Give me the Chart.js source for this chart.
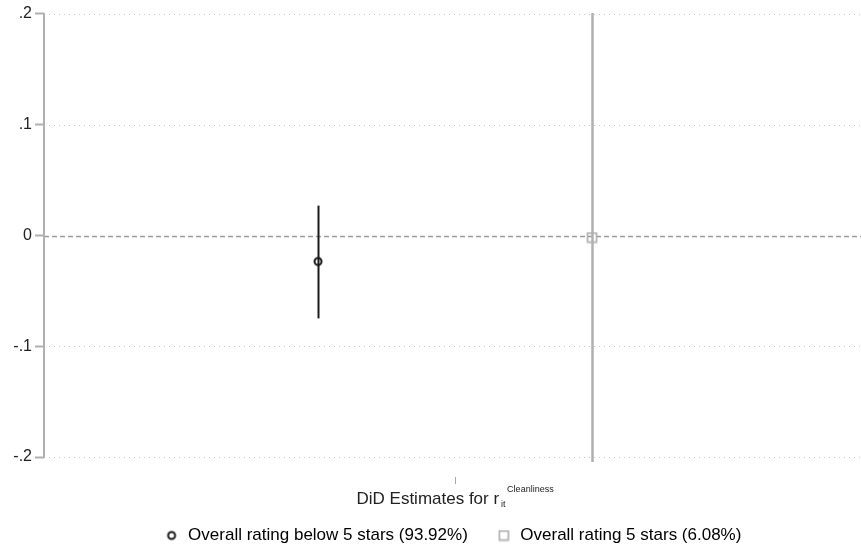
<!DOCTYPE html>
<html>
<head>
<meta charset="utf-8">
<script src="https://cdn.jsdelivr.net/npm/chart.js@4.4.1/dist/chart.umd.min.js"></script>
<style>
  html, body { margin: 0; padding: 0; background: #ffffff; }
  #wrap { width: 861px; height: 554px; position: relative; }
</style>
</head>
<body>
<div id="wrap"><canvas id="c" width="861" height="554"></canvas></div>
<script>
// ---- data ----
const seriesNames = ['Overall rating below 5 stars (93.92%)', 'Overall rating 5 stars (6.08%)'];
const xPositions = [-0.4, 0.4];
const estimates = [-0.0234, -0.0018];
const ciLow = [-0.0748, -0.2045];
const ciHigh = [0.027, 0.201];
const yTickValues = [-0.2, -0.1, 0, 0.1, 0.2];
const yTickLabels = ['-.2', '-.1', '0', '.1', '.2'];
const xTickValues = [0];
const xTitleMain = 'DiD Estimates for r';
const xTitleSub = 'it';
const xTitleSup = 'Cleanliness';

const FONT = '"Liberation Sans", Arial, sans-serif';
const seriesColors = ['#1a1a1a', '#b0b0b0'];

function makeMarker(kind, color) {
  const c = document.createElement('canvas');
  c.width = 12; c.height = 12;
  const g = c.getContext('2d');
  g.strokeStyle = color;
  if (kind === 'circle') {
    g.lineWidth = 2;
    g.beginPath(); g.arc(6, 6, 3.5, 0, Math.PI * 2); g.stroke();
  } else {
    g.lineWidth = 1.7;
    g.strokeRect(1.5, 1.5, 9, 9);
  }
  return c;
}
const markers = [makeMarker('circle', seriesColors[0]), makeMarker('rect', seriesColors[1])];

const datasets = seriesNames.map((name, i) => ({
  label: name,
  data: [{ x: xPositions[i], y: estimates[i] }],
  pointStyle: markers[i],
  borderColor: seriesColors[i],
  backgroundColor: 'rgba(0,0,0,0)',
  showLine: false
}));

const decorPlugin = {
  id: 'decor',
  beforeDatasetsDraw(chart) {
    const ctx = chart.ctx;
    const xs = chart.scales.x, ys = chart.scales.y;
    const ca = chart.chartArea;
    ctx.save();
    yTickValues.forEach(v => {
      const py = Math.round(ys.getPixelForValue(v)) + 0.5;
      ctx.beginPath();
      if (v === 0) {
        ctx.strokeStyle = '#9a9a9a';
        ctx.lineWidth = 1.5;
        ctx.setLineDash([5, 3]);
      } else {
        ctx.strokeStyle = '#c8c8c8';
        ctx.lineWidth = 1;
        ctx.setLineDash([1, 4]);
      }
      ctx.moveTo(ca.left, py);
      ctx.lineTo(ca.right, py);
      ctx.stroke();
    });
    ctx.setLineDash([]);
    ctx.strokeStyle = '#b0b0b0';
    ctx.lineWidth = 2;
    ctx.beginPath();
    ctx.moveTo(ca.left, ys.getPixelForValue(yTickValues[0]) + 1);
    ctx.lineTo(ca.left, ys.getPixelForValue(yTickValues[yTickValues.length - 1]) - 1);
    ctx.stroke();
    xPositions.forEach((xv, i) => {
      const px = Math.round(xs.getPixelForValue(xv)) + 0.5;
      ctx.strokeStyle = seriesColors[i];
      ctx.lineWidth = i === 0 ? 2 : 2.5;
      ctx.beginPath();
      ctx.moveTo(px, ys.getPixelForValue(ciHigh[i]));
      ctx.lineTo(px, ys.getPixelForValue(ciLow[i]));
      ctx.stroke();
    });
    ctx.restore();
  },
  afterDraw(chart) {
    const ctx = chart.ctx;
    const xs = chart.scales.x;
    const ca = chart.chartArea;
    ctx.save();
    ctx.fillStyle = '#222222';
    ctx.textBaseline = 'alphabetic';
    const mainFont = '17px ' + FONT;
    const smallFont = '9px ' + FONT;
    ctx.font = mainFont;
    const mw = ctx.measureText(xTitleMain).width;
    ctx.font = smallFont;
    const subW = ctx.measureText(xTitleSub).width;
    const supW = ctx.measureText(xTitleSup).width;
    const total = mw + Math.max(2 + subW, 8 + supW);
    const cx = xs.getPixelForValue(xTickValues[0]);
    const left = cx - total / 2;
    const base = ca.bottom + 27;
    ctx.font = mainFont;
    ctx.textAlign = 'left';
    ctx.fillText(xTitleMain, left, base);
    ctx.font = smallFont;
    ctx.fillText(xTitleSub, left + mw + 2, base + 3);
    ctx.fillText(xTitleSup, left + mw + 8, base - 12);
    ctx.restore();
  }
};

new Chart(document.getElementById('c'), {
  type: 'scatter',
  data: { datasets },
  options: {
    responsive: false,
    animation: false,
    layout: { autoPadding: false, padding: { top: 13, left: 0, right: 0, bottom: 0 } },
    scales: {
      x: {
        type: 'linear',
        min: -1.2,
        max: 1.185,
        afterBuildTicks: s => { s.ticks = xTickValues.map(v => ({ value: v })); },
        afterFit: s => { s.height = 22; },
        ticks: { callback: () => '', font: { size: 1 } },
        grid: { drawOnChartArea: false, drawTicks: true, tickLength: 7, tickColor: '#a8a8a8', tickWidth: 1 },
        border: { display: false }
      },
      y: {
        type: 'linear',
        min: -0.218,
        max: 0.2009,
        afterBuildTicks: s => { s.ticks = yTickValues.map(v => ({ value: v })); },
        afterFit: s => { s.width = 44; },
        ticks: {
          callback: v => yTickLabels[yTickValues.indexOf(v)] ?? '',
          font: { family: FONT, size: 16 },
          color: '#222222',
          padding: 3
        },
        grid: { drawOnChartArea: false, drawTicks: true, tickLength: 9, tickColor: '#b0b0b0', tickWidth: 2 },
        border: { display: false }
      }
    },
    plugins: {
      legend: {
        position: 'bottom',
        fullSize: false,
        labels: {
          usePointStyle: true,
          pointStyleWidth: 16,
          boxHeight: 8,
          padding: 28,
          color: '#222222',
          font: { family: FONT, size: 17 },
          generateLabels: chart => seriesNames.map((n, i) => ({
            text: n,
            pointStyle: markers[i],
            fillStyle: 'rgba(0,0,0,0)',
            strokeStyle: seriesColors[i],
            lineWidth: 0,
            datasetIndex: i,
            hidden: false
          }))
        }
      },
      tooltip: { enabled: false }
    }
  },
  plugins: [decorPlugin]
});
</script>
</body>
</html>
